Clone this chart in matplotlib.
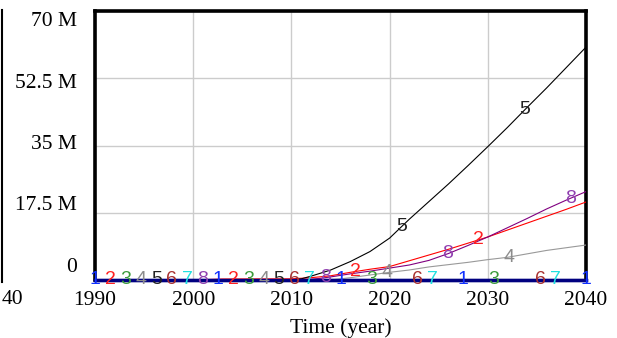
import numpy as np
import matplotlib.pyplot as plt
from matplotlib.lines import Line2D

# Dados (milhoes)
years = [1990, 2000, 2003, 2010, 2011, 2012, 2013, 2014, 2016, 2018, 2020,
         2022, 2024, 2026, 2028, 2030, 2032, 2034, 2036, 2038, 2040]
zero = [0.0] * len(years)
s1 = zero
s2 = [0, 0, 0.25, 0.3, 0.45, 0.6, 0.85, 1.1, 2.0, 2.8, 3.5,
      5.0, 6.5, 8.0, 9.6, 11.2, 13.0, 14.8, 16.6, 18.4, 20.3]
s3 = zero
s4 = [0, 0, 0, 0, 0, 0, 0, 0, 0.6, 1.3, 2.0,
      2.6, 3.4, 4.0, 4.6, 5.3, 5.9, 6.8, 7.7, 8.4, 9.1]
s5 = [0, 0, 0, 0, 0.3, 1.0, 1.8, 2.6, 4.8, 7.4, 10.9,
      15.8, 20.4, 25.0, 29.8, 34.7, 39.7, 44.9, 50.0, 55.3, 60.6]
s6 = zero
s7 = zero
s8 = [0, 0, 0, 0, 0.05, 0.2, 0.45, 0.8, 1.6, 2.3, 3.1,
      3.9, 5.1, 6.9, 9.0, 11.2, 13.6, 16.0, 18.5, 20.8, 23.0]

series = [s1, s2, s3, s4, s5, s6, s7, s8]
line_colors = ['#000080', '#ff0000', '#2e8b2e', '#999999', '#000000', '#8b1a1a', '#00e0e0', '#800080']
mark_colors = ['#1030ff', '#ff2020', '#3a9a3a', '#8c8c8c', '#222222', '#a83030', '#20e0e0', '#9040b0']

y_ticks = [0, 17.5, 35, 52.5, 70]
y_labels = ['0', '17.5 M', '35 M', '52.5 M', '70 M']
x_ticks = [1990, 2000, 2010, 2020, 2030, 2040]

serif = 'Liberation Serif'

fig = plt.figure(figsize=(6.17, 3.38), dpi=100)
ax = fig.add_axes([95/617, 58/338, 491/617, 269/338])

# linhas
for k in [2, 5, 6, 3, 1, 7, 4]:
    ax.plot(years, series[k], color=line_colors[k], lw=0.8, zorder=3)
ax.plot(years, s1, color=line_colors[0], lw=2.4, zorder=4, clip_on=False)

# marcadores numericos no estilo Vensim
x0, x1 = 1990, 2040
for k in range(8):
    idx = list(range(k, 33, 8))
    for i in idx:
        xm = x0 + (x1 - x0) * i / 32
        ym = np.interp(xm, years, series[k])
        ax.text(xm, ym, str(k + 1), color=mark_colors[k], fontsize=14,
                family='Liberation Sans', ha='center', va='center',
                zorder=5, clip_on=False)

ax.set_xlim(x0, x1)
ax.set_ylim(0, 70)
ax.set_xticks(x_ticks)
ax.set_yticks(y_ticks)
ax.set_yticklabels([])
ax.grid(True, color='#cccccc', lw=1.0)
ax.tick_params(length=0, pad=8, labelsize=15.5)
for lab in ax.get_xticklabels():
    lab.set_family(serif)

# rotulos do eixo y (espacados como no Vensim)
for j, lab in enumerate(y_labels):
    ax.text(-0.037, 0.048 + j * 0.228, lab, transform=ax.transAxes,
            ha='right', va='center', fontsize=15.5, family=serif)

ax.set_xlabel('Time (year)', fontsize=15.5, family=serif, labelpad=6)

for side in ['left', 'top', 'right']:
    ax.spines[side].set_linewidth(2.6)
    ax.spines[side].set_color('black')
ax.spines['bottom'].set_linewidth(2.4)
ax.spines['bottom'].set_color('#000080')

# resto do grafico vizinho cortado
fig.add_artist(Line2D([1.5/617, 1.5/617], [56/338, 328/338], color='black', lw=1.5))
fig.text(23/617, 1 - 300/338, '40', ha='right', va='center', fontsize=15.5, family=serif)

fig.savefig('out.png', dpi=100)
